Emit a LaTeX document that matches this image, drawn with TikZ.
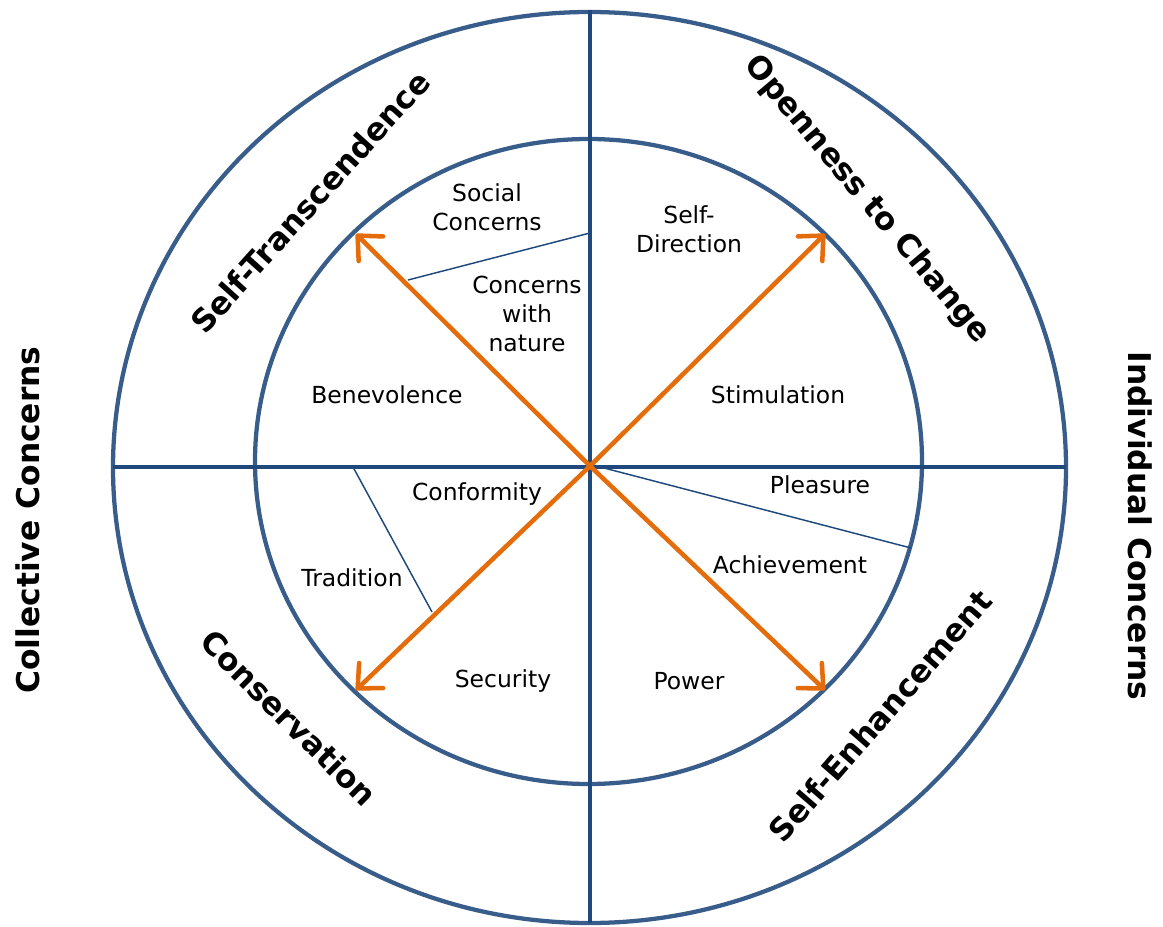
\documentclass[tikz,border=0pt]{standalone}
\usepackage{fontspec}
\setmainfont{DejaVu Sans}
\usetikzlibrary{arrows.meta}
\definecolor{ringblue}{HTML}{385D8A}
\definecolor{axisblue}{HTML}{1F497D}
\definecolor{valueorange}{HTML}{E46C0A}
\begin{document}
\begin{tikzpicture}[x=0.75pt,y=-0.75pt,
    ring/.style={ringblue, line width=3.2pt},
    axis/.style={axisblue, line width=3.2pt},
    divider/.style={axisblue, line width=1.1pt},
    pull/.style={valueorange, line width=3.4pt, line cap=round,
      -{Straight Barb[length=14pt,width=26pt,round]}},
    value/.style={font=\fontsize{17.6}{21.5}\selectfont, align=center},
    dimension/.style={font=\fontsize{23.5}{27}\selectfont\bfseries}]
        \useasboundingbox (0,0) rectangle (1163,927);
        % coordinates for the axes
        \coordinate (centre) at (590,466);
        \coordinate (north)  at (590, 10);
        \coordinate (south)  at (590,923);
        \coordinate (west)   at (113,467);
        \coordinate (east)   at (1066,467);
        % coordinates for the arrow tips
        \coordinate (tipnw)  at (356,234);
        \coordinate (tipne)  at (825,234);
        \coordinate (tipsw)  at (356,690);
        \coordinate (tipse)  at (825,690);
        % coordinates for the dividers
        \coordinate (socialtop)    at (590,233);
        \coordinate (socialbottom) at (408,280);
        \coordinate (pleasurein)   at (604,468);
        \coordinate (pleasureout)  at (911,548);
        \coordinate (traditiontop) at (353,467);
        \coordinate (traditionend) at (432,612);
        % drawing the rings
        \draw[ring] (589.5,467.5) ellipse [x radius=476.5, y radius=455.5];
        \draw[ring] (588.5,461.5) ellipse [x radius=333.5, y radius=322.5];
        % drawing the axes
        \draw[axis] (north) -- (south);
        \draw[axis] (west)  -- (east);
        % drawing the dividers
        \draw[divider] (socialtop)    -- (socialbottom);
        \draw[divider] (pleasurein)   -- (pleasureout);
        \draw[divider] (traditiontop) -- (traditionend);
        % drawing the arrows
        \draw[pull] (centre) -- (tipnw);
        \draw[pull] (centre) -- (tipne);
        \draw[pull] (centre) -- (tipsw);
        \draw[pull] (centre) -- (tipse);
        % values
        \node[value] (social)      at (487,207) {Social\\Concerns};
        \node[value] (selfdir)     at (689,229) {Self-\\Direction};
        \node[value] (nature)      at (527,314) {Concerns\\with\\nature};
        \node[value] (benevolence) at (387,395) {Benevolence};
        \node[value] (stimulation) at (778,395) {Stimulation};
        \node[value] (pleasure)    at (820,485) {Pleasure};
        \node[value] (conformity)  at (477,494) {Conformity};
        \node[value] (tradition)   at (352,578) {Tradition};
        \node[value] (achievement) at (790,565) {Achievement};
        \node[value] (security)    at (503,681) {Security};
        \node[value] (power)       at (689,681) {Power};
        % dimensions
        \node[dimension, rotate=48]  (transcend)  at (310,202) {Self-Transcendence};
        \node[dimension, rotate=-50] (openness)   at (867,200) {Openness to Change};
        \node[dimension, rotate=-45] (conserve)   at (289,718) {Conservation};
        \node[dimension, rotate=49]  (enhance)    at (880,716) {Self-Enhancement};
        \node[dimension, rotate=90]  (collective) at (28,520)  {Collective Concerns};
        \node[dimension, rotate=-90] (individual) at (1140,526) {Individual Concerns};
\end{tikzpicture}
\end{document}
